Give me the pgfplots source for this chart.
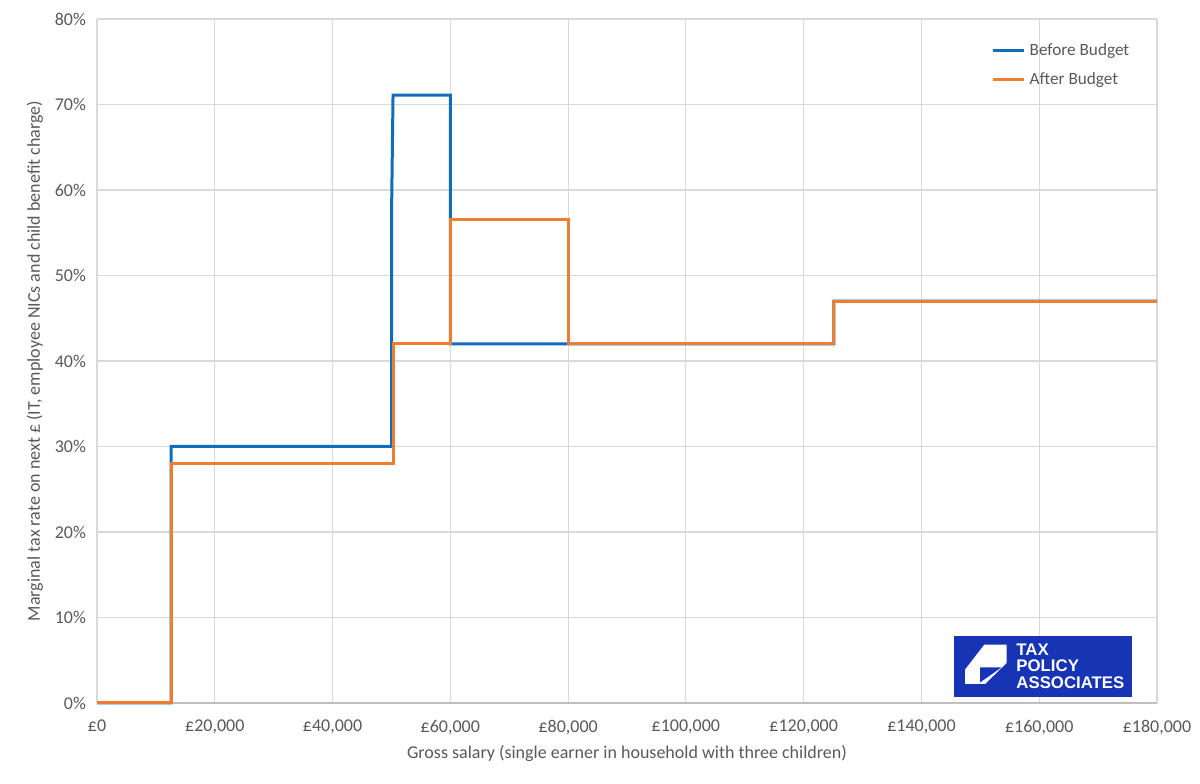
\documentclass[border=0pt]{standalone}
\usepackage{pgfplots}
\pgfplotsset{compat=1.18}
\usepackage{fontspec}
\setmainfont{Carlito}
\newfontfamily\logofont{Liberation Sans}

\definecolor{before}{RGB}{17,108,188}
\definecolor{after}{RGB}{237,125,49}
\definecolor{gridgray}{RGB}{217,217,217}
\definecolor{axisgray}{RGB}{191,191,191}
\definecolor{txtgray}{RGB}{89,89,89}
\definecolor{logoblue}{RGB}{22,52,180}

\begin{document}
\begin{tikzpicture}
\begin{axis}[
    scale only axis,
    width=530pt, height=342pt,
    xmin=0, xmax=180000,
    ymin=0, ymax=80,
    axis lines*=left,
    xtick={0,20000,...,180000},
    xticklabels={£0,{£20,000},{£40,000},{£60,000},{£80,000},{£100,000},{£120,000},{£140,000},{£160,000},{£180,000}},
    ytick={0,10,...,80},
    yticklabels={0\%,10\%,20\%,30\%,40\%,50\%,60\%,70\%,80\%},
    scaled x ticks=false,
    major tick length=0pt,
    grid=major,
    major grid style={draw=gridgray, line width=0.6pt},
    x axis line style={draw=axisgray, line width=0.7pt},
    y axis line style={draw=gridgray, line width=0.6pt},
    tick label style={font=\fontsize{9}{11}\selectfont, text=txtgray},
    /pgf/number format/assume math mode=true,
    xticklabel style={yshift=-5pt},
    yticklabel style={xshift=-2pt},
    label style={font=\fontsize{9}{11}\selectfont, text=txtgray},
    xlabel={Gross salary (single earner in household with three children)},
    ylabel={Marginal tax rate on next £ (IT, employee NICs and child benefit charge)},
    xlabel style={yshift=1.5pt},
    ylabel style={yshift=-1pt},
    legend style={draw=none, fill=none, at={(rel axis cs:0.838,0.977)}, anchor=north west,
        font=\fontsize{8.6}{10}\selectfont, text=txtgray, row sep=3pt},
    legend cell align=left,
    legend image code/.code={\draw[#1, line width=1.5pt] (0pt,0pt) -- (15.5pt,0pt);},
    clip=false,
]
\addplot[before, line width=1.5pt, line join=miter] coordinates {
    (0,0) (12570,0) (12570,30) (50050,30) (50050,59) (50270,71.1)
    (60000,71.1) (60000,42) (125140,42) (125140,47) (180000,47)
};
\addlegendentry{Before Budget}
\addplot[after, line width=1.5pt, line join=miter] coordinates {
    (0,0) (12570,0) (12570,28) (50270,28) (50270,42) (60000,42)
    (60000,56.6) (80000,56.6) (80000,42) (125140,42) (125140,47) (180000,47)
};
\addlegendentry{After Budget}
\coordinate (logo) at (rel axis cs:0.8085,0.0088);
\path ([xshift=-48.5pt,yshift=-40.5pt]rel axis cs:0,0) rectangle ([xshift=21.5pt,yshift=9.5pt]rel axis cs:1,1);
\end{axis}
\begin{scope}[shift={(logo)}, x=0.5pt, y=-0.5pt]
  \fill[logoblue] (0,0) rectangle (178,-61);
  \fill[white] (30.3,-52.3) -- (52.7,-52.3) -- (52.7,-34) -- (31,-13) -- (11,-13) -- (11,-27.3) -- cycle;
  \fill[logoblue] (26,-29.7) -- (47.7,-29.7) -- (26,-14.5) -- cycle;
  \node[anchor=west, text=white, font=\logofont\bfseries\fontsize{8.4}{8.6}\selectfont, align=left, inner sep=0pt] at (62,-31)
    {TAX\\[-0.3pt]POLICY\\[-0.3pt]ASSOCIATES};
\end{scope}
\end{tikzpicture}
\end{document}
